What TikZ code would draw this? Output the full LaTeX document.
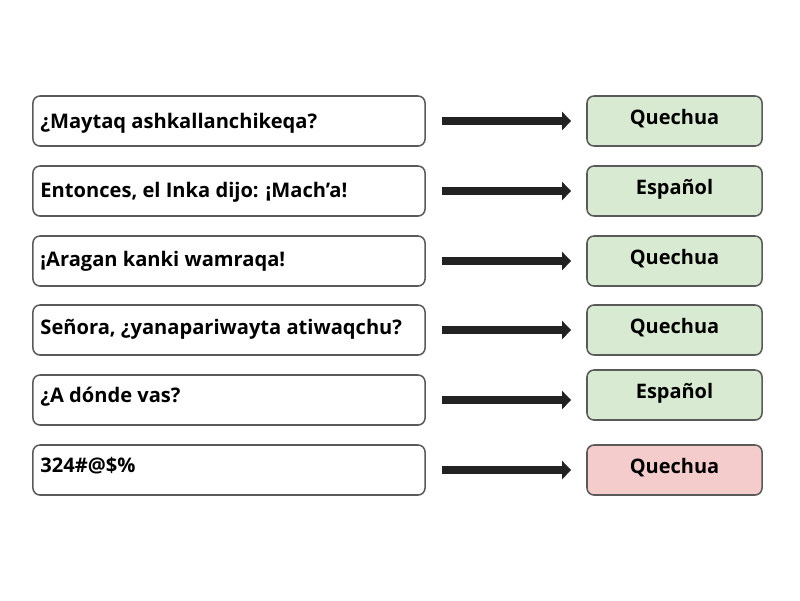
\documentclass[tikz,border=0pt]{standalone}
\usepackage{fontspec}
\setmainfont{Open Sans}
\usetikzlibrary{arrows.meta,calc,positioning}
\definecolor{okgreen}{HTML}{D9EAD3}
\definecolor{badred}{HTML}{F4CCCC}
\definecolor{edgegray}{HTML}{5A5A5A}
\definecolor{arrowdark}{HTML}{222222}
\tikzset{
  phrase/.style={draw=edgegray, line width=1.1pt, rounded corners=5pt, fill=white, minimum width=9.8cm, minimum height=1.25cm, inner sep=0pt},
  answer/.style={draw=edgegray, line width=1.1pt, rounded corners=5pt, fill=okgreen, minimum width=4.375cm, minimum height=1.25cm, inner sep=0pt},
  wrong/.style={answer, fill=badred},
  phrasetext/.style={anchor=west, inner sep=0pt, font=\fontsize{14.3}{17}\selectfont\bfseries},
  answertext/.style={inner sep=0pt, font=\fontsize{14.2}{17}\selectfont\bfseries},
  match/.style={-{Triangle[length=0.23cm, width=0.45cm]}, line width=0.22cm, arrowdark, shorten <=0.4cm, shorten >=0.375cm}
}

\begin{document}
\begin{tikzpicture}[x=0.025cm,y=-0.025cm]
  \useasboundingbox (0,0) rectangle (800,600);

  \node[phrase] (maytaq) at (229,121) {};
  \node[phrase] (inka) at (229,191) {};
  \node[phrase] (aragan) at (229,261) {};
  \node[phrase] (senora) at (229,330) {};
  \node[phrase] (donde) at (229,400) {};
  \node[phrase] (simbolos) at (229,470) {};

  \node[phrasetext] (maytaq-t) at ($(maytaq.west)+(8,2)$) {¿Maytaq ashkallanchikeqa?};
  \node[phrasetext] (inka-t) at ($(inka.west)+(8,1)$) {Entonces, el Inka dijo: ¡Mach’a!};
  \node[phrasetext] (aragan-t) at ($(aragan.west)+(8,0)$) {¡Aragan kanki wamraqa!};
  \node[phrasetext] (senora-t) at ($(senora.west)+(8,-1)$) {Señora, ¿yanapariwayta atiwaqchu?};
  \node[phrasetext] (donde-t) at ($(donde.west)+(8,-3)$) {¿A dónde vas?};
  \node[phrasetext] (simbolos-t) at ($(simbolos.west)+(8,-4)$) {324\#@\$\%};

  \node[answer] (maytaq-lang) at (674.5,121) {};
  \node[answer] (inka-lang) at (674.5,191) {};
  \node[answer] (aragan-lang) at (674.5,261) {};
  \node[answer] (senora-lang) at (674.5,330) {};
  \node[answer] (donde-lang) at (674.5,395) {};
  \node[wrong] (simbolos-lang) at (674.5,470) {};

  \node[answertext] at ($(maytaq-lang)+(0,-2)$) {Quechua};
  \node[answertext] at ($(inka-lang)+(0,-2)$) {Español};
  \node[answertext] at ($(aragan-lang)+(0,-2)$) {Quechua};
  \node[answertext] at ($(senora-lang)+(0,-2)$) {Quechua};
  \node[answertext] at ($(donde-lang)+(0,-2)$) {Español};
  \node[answertext] at ($(simbolos-lang)+(0,-2)$) {Quechua};

  \draw[match] (maytaq.east) -- (maytaq.east -| maytaq-lang.west);
  \draw[match] (inka.east) -- (inka.east -| inka-lang.west);
  \draw[match] (aragan.east) -- (aragan.east -| aragan-lang.west);
  \draw[match] (senora.east) -- (senora.east -| senora-lang.west);
  \draw[match] (donde.east) -- (donde.east -| donde-lang.west);
  \draw[match] (simbolos.east) -- (simbolos.east -| simbolos-lang.west);
\end{tikzpicture}
\end{document}
